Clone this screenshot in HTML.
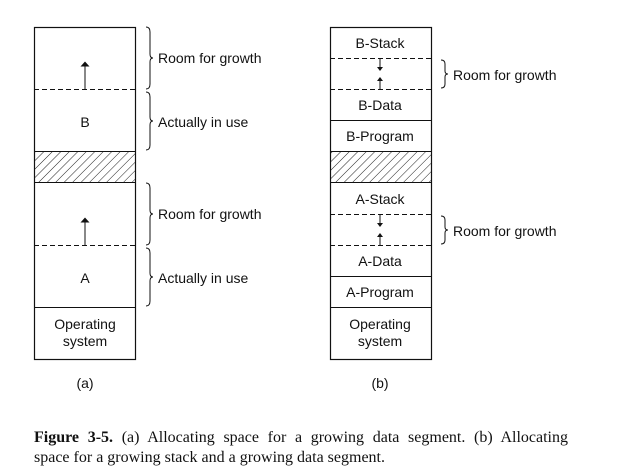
<!DOCTYPE html>
<html><head><meta charset="utf-8"><style>
body{margin:0;background:#fff;width:627px;height:474px;overflow:hidden;position:relative}
svg{position:absolute;left:0;top:0}
.t{font-family:"Liberation Sans",sans-serif;font-size:14px;fill:#111}
#cap{position:absolute;left:34px;top:428px;width:534px;font-family:"Liberation Serif",serif;font-size:16px;line-height:20px;color:#111}
#cap .l1{text-align:justify;text-align-last:justify;white-space:nowrap}
</style></head><body>
<svg width="627" height="474">
<defs><pattern id="h" width="6" height="6" patternUnits="userSpaceOnUse" patternTransform="rotate(45)"><line x1="0" y1="0" x2="0" y2="6" stroke="#222" stroke-width="1"/></pattern>
<marker id="ar" markerWidth="5" markerHeight="9" refX="2.5" refY="4.5" orient="auto-start-reverse" markerUnits="userSpaceOnUse"><path d="M0,0 L5,4.5 L0,9 z" fill="#111"/></marker>
<marker id="as" markerWidth="4" markerHeight="6" refX="3" refY="3" orient="auto" markerUnits="userSpaceOnUse"><path d="M0,0 L4,3 L0,6 z" fill="#111"/></marker></defs>
<g stroke="#111" fill="none">
<rect x="34.5" y="27.5" width="101" height="332" stroke-width="1.2"/>
<line x1="34" y1="89.5" x2="135" y2="89.5" stroke-dasharray="5,3"/>
<rect x="34.5" y="151.5" width="101" height="31" fill="url(#h)"/>
<line x1="34" y1="245.5" x2="135" y2="245.5" stroke-dasharray="5,3"/>
<line x1="34" y1="307.5" x2="135" y2="307.5"/>
<line x1="85" y1="89" x2="85" y2="64" marker-end="url(#ar)"/>
<line x1="85" y1="245" x2="85" y2="220" marker-end="url(#ar)"/>
<path d="M146,27 q4,0 4,5 v22 q0,4 3,4 q-3,0 -3,4 v22 q0,5 -4,5"/>
<path d="M146,92 q4,0 4,5 v20 q0,4 3,4 q-3,0 -3,4 v20 q0,5 -4,5"/>
<path d="M146,183 q4,0 4,5 v22 q0,4 3,4 q-3,0 -3,4 v22 q0,5 -4,5"/>
<path d="M146,248 q4,0 4,5 v20 q0,4 3,4 q-3,0 -3,4 v20 q0,5 -4,5"/>
</g>
<g>
<text class="t" x="85" y="127" text-anchor="middle">B</text>
<text class="t" x="85" y="283" text-anchor="middle">A</text>
<text class="t" x="85" y="329" text-anchor="middle">Operating</text>
<text class="t" x="85" y="346" text-anchor="middle">system</text>
<text class="t" x="158" y="63">Room for growth</text>
<text class="t" x="158" y="127">Actually in use</text>
<text class="t" x="158" y="219">Room for growth</text>
<text class="t" x="158" y="283">Actually in use</text>
<text class="t" x="85" y="388" text-anchor="middle">(a)</text>
</g>
<g stroke="#111" fill="none">
<rect x="330.5" y="27.5" width="101" height="332" stroke-width="1.2"/>
<line x1="330" y1="58.5" x2="431" y2="58.5" stroke-dasharray="5,3"/>
<line x1="330" y1="89.5" x2="431" y2="89.5" stroke-dasharray="5,3"/>
<line x1="330" y1="120.5" x2="431" y2="120.5"/>
<rect x="330.5" y="151.5" width="101" height="31" fill="url(#h)"/>
<line x1="330" y1="214.5" x2="431" y2="214.5" stroke-dasharray="5,3"/>
<line x1="330" y1="245.5" x2="431" y2="245.5" stroke-dasharray="5,3"/>
<line x1="330" y1="276.5" x2="431" y2="276.5"/>
<line x1="330" y1="307.5" x2="431" y2="307.5"/>
<line x1="380" y1="59" x2="380" y2="70" marker-end="url(#as)"/>
<line x1="380" y1="89" x2="380" y2="78" marker-end="url(#as)"/>
<line x1="380" y1="215" x2="380" y2="226" marker-end="url(#as)"/>
<line x1="380" y1="245" x2="380" y2="234" marker-end="url(#as)"/>
<path d="M441,60 q4,0 4,4 v7 q0,3 3,3 q-3,0 -3,3 v7 q0,4 -4,4"/>
<path d="M441,216 q4,0 4,4 v7 q0,3 3,3 q-3,0 -3,3 v7 q0,4 -4,4"/>
</g>
<g>
<text class="t" x="380" y="48" text-anchor="middle">B-Stack</text>
<text class="t" x="380" y="110" text-anchor="middle">B-Data</text>
<text class="t" x="380" y="141" text-anchor="middle">B-Program</text>
<text class="t" x="380" y="204" text-anchor="middle">A-Stack</text>
<text class="t" x="380" y="266" text-anchor="middle">A-Data</text>
<text class="t" x="380" y="297" text-anchor="middle">A-Program</text>
<text class="t" x="380" y="329" text-anchor="middle">Operating</text>
<text class="t" x="380" y="346" text-anchor="middle">system</text>
<text class="t" x="453" y="80">Room for growth</text>
<text class="t" x="453" y="236">Room for growth</text>
<text class="t" x="380" y="388" text-anchor="middle">(b)</text>
</g>
</svg>
<div id="cap"><div class="l1"><b>Figure 3-5.</b> (a) Allocating space for a growing data segment. (b) Allocating</div><div>space for a growing stack and a growing data segment.</div></div>
</body></html>
